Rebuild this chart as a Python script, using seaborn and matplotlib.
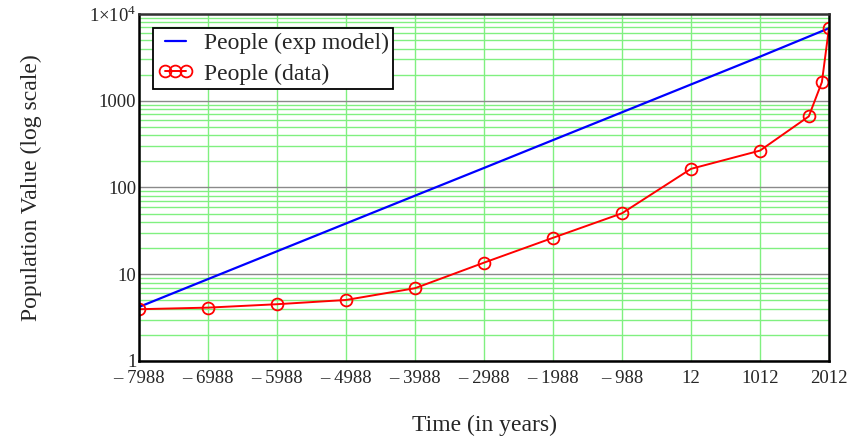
"""Population growth: exponential model vs historical data, on a log scale."""

import matplotlib

matplotlib.use("Agg")
import matplotlib.pyplot as plt
import pandas as pd
import seaborn as sns
from matplotlib.ticker import FixedLocator, LogLocator, NullFormatter

# Historical population estimates (millions)
data_years = [-7988, -6988, -5988, -4988, -3988, -2988, -1988, -988, 12, 1012, 1720, 1910, 2012]
data_people = [3.95, 4.12, 4.51, 5.05, 6.9, 13.6, 26.3, 50.4, 164, 266, 660, 1640, 6850]

# Exponential model sampled at each tick year (straight line on the log axis)
model_years = [-7988, -6988, -5988, -4988, -3988, -2988, -1988, -988, 12, 1012, 2012]
model_people = [4.2, 8.8, 18.4, 38.5, 80.5, 168, 352, 736, 1540, 3220, 6850]

x_ticks = [-7988, -6988, -5988, -4988, -3988, -2988, -1988, -988, 12, 1012, 2012]
x_tick_labels = ["\u2013 7988", "\u2013 6988", "\u2013 5988", "\u2013 4988", "\u2013 3988",
                 "\u2013 2988", "\u2013 1988", "\u2013 988", "12", "1012", "2012"]
y_ticks = [1, 10, 100, 1000, 10000]
y_tick_labels = ["1", "10", "100", "1000", r"1$\times$10$^{4}$"]

sns.set_theme(style="white")
plt.rcParams["font.family"] = ["Liberation Serif", "DejaVu Serif"]
plt.rcParams["mathtext.fontset"] = "custom"
plt.rcParams["mathtext.rm"] = "Liberation Serif"

model_df = pd.DataFrame({"year": model_years, "people": model_people})
data_df = pd.DataFrame({"year": data_years, "people": data_people})

fig, ax = plt.subplots(figsize=(8.59, 4.37), dpi=100)
fig.subplots_adjust(left=0.162, right=0.965, bottom=0.174, top=0.968)

ax.set_yscale("log")
ax.set_xlim(-7988, 2012)
ax.set_ylim(1, 10000)

# grid: green minor lines, gray decades, green verticals
ax.yaxis.set_minor_locator(LogLocator(base=10, subs=range(2, 10)))
ax.yaxis.set_minor_formatter(NullFormatter())
ax.grid(which="minor", axis="y", color="#80f080", linewidth=1.0)
ax.grid(which="major", axis="y", color="#8a8a8a", linewidth=1.0)
ax.grid(which="major", axis="x", color="#80f080", linewidth=1.0)
ax.set_axisbelow(True)

sns.lineplot(data=model_df, x="year", y="people", ax=ax, color="#0000ff",
             linewidth=1.6, label="People (exp model)")
sns.lineplot(data=data_df, x="year", y="people", ax=ax, color="#ff0000",
             linewidth=1.4, marker="o", markersize=8.5, markerfacecolor="none",
             markeredgecolor="#ff0000", markeredgewidth=1.3, label="People (data)")

ax.xaxis.set_major_locator(FixedLocator(x_ticks))
ax.set_xticklabels(x_tick_labels, fontsize=13.5)
ax.yaxis.set_major_locator(FixedLocator(y_ticks))
ax.set_yticklabels(y_tick_labels, fontsize=13.5)
ax.tick_params(axis="x", which="both", length=0, pad=6.5)
ax.tick_params(axis="y", which="both", length=0, pad=2)

for side, spine in ax.spines.items():
    spine.set_visible(True)
    spine.set_linewidth(1.8)
    spine.set_color("black" if side in ("left", "bottom", "right") else "#333333")

ax.set_xlabel("Time (in years)", fontsize=17, labelpad=20)
ax.set_ylabel("Population Value (log scale)", fontsize=17, labelpad=34)

leg = ax.legend(loc="upper left", bbox_to_anchor=(0.02, 0.96), numpoints=3,
                fontsize=17, frameon=True, fancybox=False, borderpad=0.2,
                handlelength=1.5, handletextpad=0.45, labelspacing=0.38,
                borderaxespad=0)
leg.get_frame().set_edgecolor("black")
leg.get_frame().set_linewidth(1.3)
leg.get_frame().set_alpha(1)

fig.savefig("out.png", dpi=100)
